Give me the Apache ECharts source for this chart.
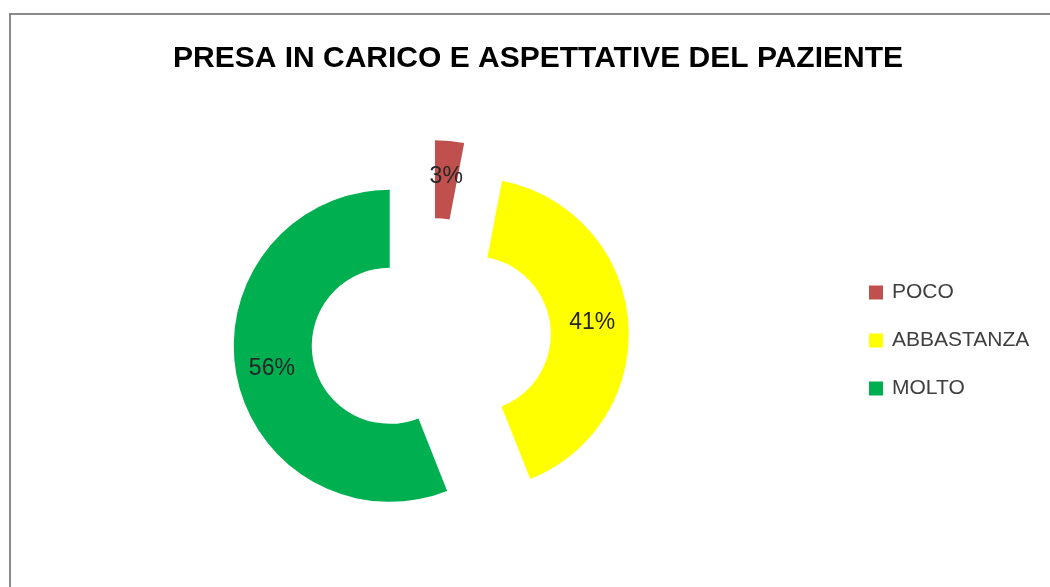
<!DOCTYPE html>
<html>
<head>
<meta charset="utf-8">
<script src="https://cdn.jsdelivr.net/npm/echarts@6/dist/echarts.min.js"></script>
<style>
  html, body { margin: 0; padding: 0; background: #fff; overflow: hidden; }
  #main { width: 1050px; height: 587px; }
</style>
</head>
<body>
<div id="main"></div>
<script>
// dati del grafico
var categorie = ['POCO', 'ABBASTANZA', 'MOLTO'];
var valori = [3, 41, 56];
var colori = ['#C0504D', '#FFFF00', '#00B050'];
var titolo = 'PRESA IN CARICO E ASPETTATIVE DEL PAZIENTE';

var dati = [];
for (var i = 0; i < categorie.length; i++) {
  dati.push({
    name: categorie[i],
    value: valori[i],
    selected: true,
    itemStyle: { color: colori[i] }
  });
}

var chart = echarts.init(document.getElementById('main'), null, { renderer: 'canvas' });
var option = {
  animation: false,
  graphic: [{
    type: 'rect',
    shape: { x: 10, y: 14, width: 1200, height: 800 },
    style: { fill: 'none', stroke: '#8a8a8a', lineWidth: 2 },
    silent: true
  }],
  title: {
    text: titolo,
    left: 533,
    top: 39,
    textAlign: 'center',
    textStyle: {
      fontFamily: '"Liberation Sans", sans-serif',
      fontWeight: 'bold',
      fontSize: 30,
      color: '#000'
    }
  },
  legend: {
    orient: 'vertical',
    left: 864,
    top: 277,
    icon: 'rect',
    itemWidth: 14,
    itemHeight: 14,
    itemGap: 27,
    selectedMode: false,
    data: categorie,
    textStyle: {
      fontFamily: '"Liberation Sans", sans-serif',
      fontSize: 21,
      lineHeight: 20,
      color: '#404040',
      padding: [0, 0, 0, 4]
    }
  },
  series: [{
    name: '',
    type: 'pie',
    center: [431, 338],
    radius: [78, 156],
    startAngle: 90,
    clockwise: true,
    selectedMode: 'multiple',
    selectedOffset: 42,
    emphasis: { disabled: true },
    label: {
      show: true,
      position: 'inside',
      formatter: '{c}%',
      fontFamily: '"Liberation Sans", sans-serif',
      fontSize: 23,
      color: '#262626'
    },
    labelLine: { show: false },
    data: dati
  }]
};
chart.setOption(option);
</script>
</body>
</html>
